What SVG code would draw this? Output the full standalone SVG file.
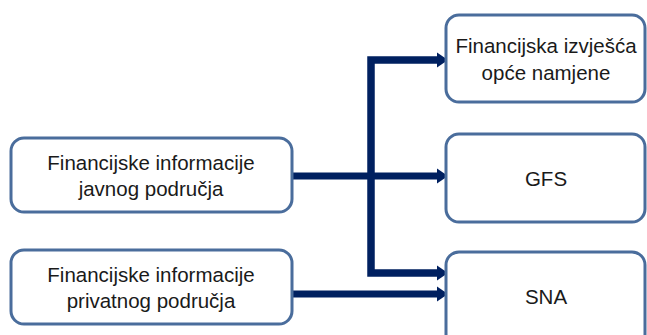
<svg xmlns="http://www.w3.org/2000/svg" width="647" height="335" viewBox="0 0 647 335">
<style>
.box{fill:#fff;stroke:#4a6d9c;stroke-width:3}
.t{font-family:"Liberation Sans",Arial,sans-serif;font-size:20.5px;fill:#1a1a1a;text-anchor:middle}
.c{fill:none;stroke:#002060;stroke-linejoin:miter;stroke-linecap:butt}
</style>
<defs>
<marker id="ah" markerUnits="userSpaceOnUse" markerWidth="14" markerHeight="18" refX="0" refY="9" orient="auto" viewBox="0 0 14 18">
<path d="M0,1.5 L11,9 L0,16.5 Z" fill="#002060"/>
</marker>
</defs>
<rect width="647" height="335" fill="#fff"/>
<g id="connectors">
<path class="c" d="M371,176 V60 H437" stroke-width="7.5" marker-end="url(#ah)"/>
<path class="c" d="M371,176 V273 H437" stroke-width="7.5" marker-end="url(#ah)"/>
<path class="c" d="M292,176 H437" stroke-width="7" marker-end="url(#ah)"/>
<path class="c" d="M292,294 H437" stroke-width="7" marker-end="url(#ah)"/>
</g>
<g id="javno">
<rect class="box" x="11" y="138" width="281" height="74" rx="13"/>
<text class="t" x="151" y="170">Financijske informacije</text>
<text class="t" x="151" y="196">javnog područja</text>
</g>
<g id="privatno">
<rect class="box" x="11" y="250" width="281" height="74" rx="13"/>
<text class="t" x="151" y="282">Financijske informacije</text>
<text class="t" x="151" y="308">privatnog područja</text>
</g>
<g id="izvjesca">
<rect class="box" x="446" y="15" width="199" height="87" rx="13"/>
<text class="t" x="546" y="53">Financijska izvješća</text>
<text class="t" x="546" y="80">opće namjene</text>
</g>
<g id="gfs">
<rect class="box" x="446" y="134" width="199" height="88" rx="13"/>
<text class="t" x="546" y="186">GFS</text>
</g>
<g id="sna">
<rect class="box" x="446" y="252" width="199" height="95" rx="13"/>
<text class="t" x="546" y="304">SNA</text>
</g>
</svg>
